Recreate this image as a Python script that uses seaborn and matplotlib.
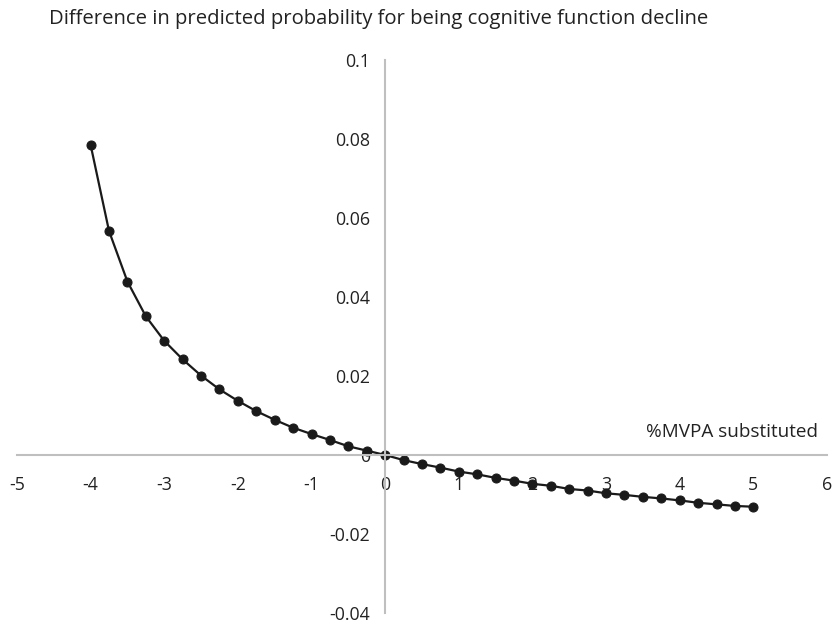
"""
plot.py
%MVPA 대체량에 따른 인지기능 저하 예측확률 차이 곡선
"""

import matplotlib
matplotlib.use("Agg")
import matplotlib.pyplot as plt
import seaborn as sns
import pandas as pd

# ============== DATA ==============
MVPA_SUBSTITUTED = [
    -4.0, -3.75, -3.5, -3.25, -3.0, -2.75, -2.5, -2.25, -2.0, -1.75,
    -1.5, -1.25, -1.0, -0.75, -0.5, -0.25, 0.0, 0.25, 0.5, 0.75,
    1.0, 1.25, 1.5, 1.75, 2.0, 2.25, 2.5, 2.75, 3.0, 3.25,
    3.5, 3.75, 4.0, 4.25, 4.5, 4.75, 5.0,
]
PROB_DIFF = [
    0.0785, 0.0567, 0.0439, 0.0351, 0.0289, 0.0242, 0.0201, 0.0166, 0.0137, 0.0111,
    0.0089, 0.0069, 0.0053, 0.0038, 0.0022, 0.0011, 0.0, -0.0013, -0.0023, -0.0032,
    -0.0042, -0.0049, -0.0058, -0.0065, -0.0073, -0.0078, -0.0086, -0.0090, -0.0097, -0.0101,
    -0.0106, -0.0110, -0.0115, -0.0121, -0.0125, -0.0129, -0.0131,
]

X_TICKS = [-5, -4, -3, -2, -1, 0, 1, 2, 3, 4, 5, 6]
Y_TICKS = [-0.04, -0.02, 0, 0.02, 0.04, 0.06, 0.08, 0.1]
Y_TICK_LABELS = ["-0.04", "-0.02", "0", "0.02", "0.04", "0.06", "0.08", "0.1"]

TITLE = "Difference in predicted probability for being cognitive function decline"
X_LABEL = "%MVPA substituted"
# ==================================

sns.set_style("white")
plt.rcParams["font.family"] = ["Open Sans", "DejaVu Sans"]
plt.rcParams["axes.unicode_minus"] = False

df = pd.DataFrame({"x": MVPA_SUBSTITUTED, "y": PROB_DIFF})

fig = plt.figure(figsize=(8.32, 6.28), dpi=100)
ax = fig.add_axes([0.0204, 0.0239, 0.9736, 0.8806])

sns.lineplot(
    data=df, x="x", y="y", ax=ax,
    color="#1a1a1a", linewidth=1.6,
    marker="o", markersize=6.5, markeredgecolor="#1a1a1a",
)

ax.set_xlim(-5, 6)
ax.set_ylim(-0.04, 0.1)

# 축을 원점에 배치 (엑셀 스타일)
ax.spines["left"].set_position(("data", 0))
ax.spines["bottom"].set_position(("data", 0))
ax.spines["right"].set_visible(False)
ax.spines["top"].set_visible(False)
for side in ["left", "bottom"]:
    ax.spines[side].set_color("#bfbfbf")
    ax.spines[side].set_linewidth(1.5)

ax.set_xticks(X_TICKS)
ax.set_xticklabels([str(t) for t in X_TICKS])
ax.set_yticks(Y_TICKS)
ax.set_yticklabels(Y_TICK_LABELS)
ax.tick_params(axis="x", length=0, pad=15, labelsize=12.8, labelcolor="#222222")
ax.tick_params(axis="y", length=0, pad=11, labelsize=12.8, labelcolor="#222222")

ax.set_xlabel("")
ax.set_ylabel("")
ax.text(5.88, 0.0057, X_LABEL, ha="right", va="center", fontsize=13.6, color="#222222")

fig.text(0.4555, 0.969, TITLE, ha="center", va="center", fontsize=14.6, color="#222222")

fig.savefig("out.png", dpi=100)
